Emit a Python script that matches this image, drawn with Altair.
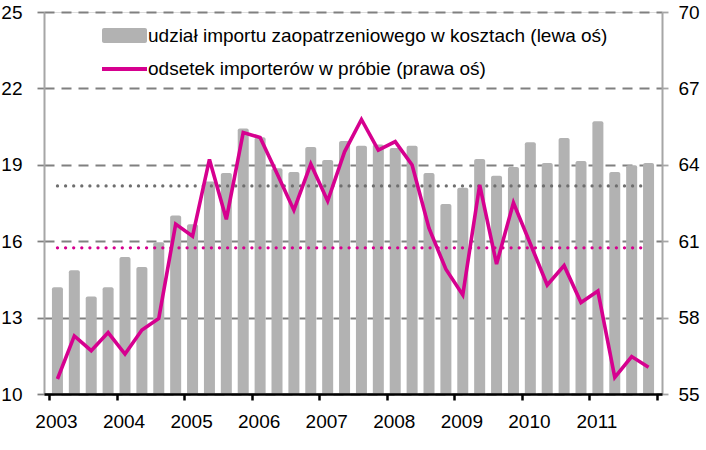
import altair as alt
import pandas as pd

# ---- data ----
years = ["2003", "2004", "2005", "2006", "2007", "2008", "2009", "2010", "2011"]
quarters = [f"{y} Q{q}" for y in years for q in range(1, 5)]

import_share = [14.19, 14.86, 13.83, 14.19, 15.38, 14.99, 15.96, 17.01, 16.67,
                18.34, 18.68, 20.43, 20.08, 18.86, 18.72, 19.70, 19.19, 19.93,
                19.75, 19.80, 19.66, 19.75, 18.68, 17.46, 18.10, 19.23, 18.57,
                18.91, 19.89, 19.07, 20.05, 19.15, 20.71, 18.72, 18.98, 19.07]

importers_pct = [55.59, 57.28, 56.70, 57.41, 56.57, 57.51, 57.97, 61.67, 61.20,
                 64.21, 61.86, 65.27, 65.07, 63.66, 62.22, 64.03, 62.58, 64.51,
                 65.78, 64.58, 64.91, 63.99, 61.51, 59.90, 58.89, 63.21, 60.10,
                 62.51, 60.90, 59.28, 60.04, 58.59, 59.04, 55.65, 56.47, 56.05]

share_avg = 18.17
importers_avg = 60.74

legend_labels = ["udział importu zaopatrzeniowego w kosztach (lewa oś)",
                 "odsetek importerów w próbie (prawa oś)"]

left_ticks = [10, 13, 16, 19, 22, 25]
right_ticks = [55, 58, 61, 64, 67, 70]

GREY = "#B2B2B2"
MAGENTA = "#D6008F"
FONT = "Liberation Sans"
FS = 19

df = pd.DataFrame({
    "quarter": quarters,
    "pos": [i + 0.5 for i in range(len(quarters))],
    "share": import_share,
    "importers": importers_pct,
})

W, H = 618, 382
n = len(quarters)

year_arr = "[" + ",".join(f"'{y}'" for y in years) + "]"
x_axis = alt.Axis(
    values=list(range(0, n + 1, 4)),
    labelExpr=f"datum.value < {n} ? {year_arr}[datum.value/4] : ''",
    grid=False, domainColor="#000000", domainWidth=2.5,
    tickColor="#000000", tickWidth=2.5, tickSize=6,
    labelFont=FONT, labelFontSize=FS, labelColor="#000000",
    labelPadding=12, labelOffset=7, title=None, zindex=2,
)
x_scale = alt.Scale(domain=[0, n], nice=False, zero=False)

yl_scale = alt.Scale(domain=[10, 25], nice=False, zero=False)
yr_scale = alt.Scale(domain=[55, 70], nice=False, zero=False)

yl_axis = alt.Axis(
    values=left_ticks, grid=True, gridColor="#808080", gridWidth=1.8,
    gridDash=[10, 7], domainColor="#A6A6A6", domainWidth=2,
    tickColor="#808080", tickSize=7, tickWidth=1.8,
    labelFont=FONT, labelFontSize=FS, labelColor="#000000",
    labelPadding=15, title=None,
)
yr_axis = alt.Axis(
    orient="right", values=right_ticks, grid=False,
    domainColor="#A6A6A6", domainWidth=2,
    tickColor="#A6A6A6", tickSize=6, tickWidth=1.8,
    labelFont=FONT, labelFontSize=FS, labelColor="#000000",
    labelPadding=10, title=None,
)

base = alt.Chart(df)
X = alt.X("pos:Q", scale=x_scale, axis=x_axis)

bars = base.mark_bar(color=GREY, size=11, cornerRadiusTopLeft=2,
                     cornerRadiusTopRight=2).encode(
    x=X,
    y=alt.Y("share:Q", scale=yl_scale, axis=yl_axis),
    y2=alt.datum(10),
)

share_mean = base.mark_rule(color="#6E6E6E", strokeWidth=3.2,
                            strokeDash=[0.1, 8], strokeCap="round").encode(
    x=alt.X("min(pos):Q", scale=x_scale, axis=x_axis),
    x2="max(pos):Q",
    y=alt.YDatum(share_avg),
)

left_layer = alt.layer(bars, share_mean)

line = base.mark_line(color=MAGENTA, strokeWidth=3.6, strokeJoin="miter").encode(
    x=X,
    y=alt.Y("importers:Q", scale=yr_scale, axis=yr_axis),
)

imp_mean = base.mark_rule(color=MAGENTA, strokeWidth=3.2,
                          strokeDash=[0.1, 8], strokeCap="round").encode(
    x=alt.X("min(pos):Q", scale=x_scale, axis=x_axis),
    x2="max(pos):Q",
    y=alt.YDatum(importers_avg),
)

right_layer = alt.layer(line, imp_mean)

# ---- manual legend (inside plot, top-left) ----
one = pd.DataFrame({"k": [0]})
leg_rect = alt.Chart(one).mark_rect(color=GREY, cornerRadius=2).encode(
    x=alt.value(58), x2=alt.value(103), y=alt.value(16), y2=alt.value(31))
leg_line = alt.Chart(one).mark_rule(color=MAGENTA, strokeWidth=4).encode(
    x=alt.value(58), x2=alt.value(103), y=alt.value(57))
leg_text1 = alt.Chart(one).mark_text(
    align="left", baseline="middle", font=FONT, fontSize=FS, color="#000000",
    text=legend_labels[0]).encode(x=alt.value(104), y=alt.value(24))
leg_text2 = alt.Chart(one).mark_text(
    align="left", baseline="middle", font=FONT, fontSize=FS, color="#000000",
    text=legend_labels[1]).encode(x=alt.value(104), y=alt.value(57))

legend = alt.layer(leg_rect, leg_line, leg_text1, leg_text2)

chart = alt.layer(left_layer, right_layer, legend).resolve_scale(
    y="independent"
).properties(
    width=W, height=H,
    padding={"left": 44, "top": 12, "right": 44, "bottom": 56},
    autosize=alt.AutoSizeParams(type="none"),
).configure_view(stroke=None).configure(background="#FFFFFF")

chart.save("out.html", embed_options={"renderer": "svg", "actions": False})
